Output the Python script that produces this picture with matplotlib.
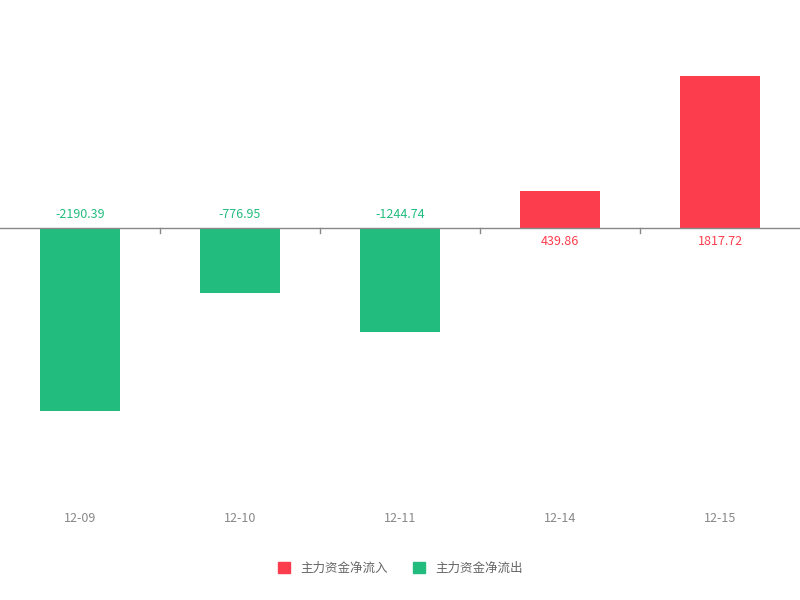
import matplotlib
matplotlib.use("Agg")
import matplotlib.pyplot as plt
from matplotlib.patches import Patch

dates = ["12-09", "12-10", "12-11", "12-14", "12-15"]
values = [-2190.39, -776.95, -1244.74, 439.86, 1817.72]
RED = "#fc3d4d"
GREEN = "#22bd7e"

plt.rcParams["font.family"] = ["Noto Sans CJK SC", "DejaVu Sans"]
fig = plt.figure(figsize=(8, 6), dpi=100)
ax = fig.add_axes([0, 1 - 490 / 600, 1, 450 / 600])
x = list(range(len(dates)))
colors = [RED if v >= 0 else GREEN for v in values]
ax.bar(x, values, width=0.5, color=colors, zorder=2)
ax.set_xlim(-0.5, len(dates) - 0.5)
ax.set_ylim(-3134, 2249)
ax.axhline(0, color="#888888", lw=1, zorder=3)
for b in [i + 0.5 for i in range(len(dates) - 1)]:
    ax.plot([b, b], [0, -60], color="#888888", lw=1, zorder=3)
for i, v in enumerate(values):
    if v < 0:
        ax.annotate(f"{v:.2f}", (i, 0), xytext=(0, 5), textcoords="offset points",
                    ha="center", va="bottom", color=GREEN, fontsize=9)
    else:
        ax.annotate(f"{v:.2f}", (i, 0), xytext=(0, -5), textcoords="offset points",
                    ha="center", va="top", color=RED, fontsize=9)
ax.set_xticks(x)
ax.set_xticklabels(dates, color="#888888", fontsize=9)
ax.tick_params(axis="x", length=0, pad=16)
ax.set_yticks([])
for s in ax.spines.values():
    s.set_visible(False)
handles = [Patch(color=RED, label="主力资金净流入"), Patch(color=GREEN, label="主力资金净流出")]
leg = fig.legend(handles=handles, loc="center", bbox_to_anchor=(0.5, 1 - 568 / 600), ncol=2,
                 frameon=False, fontsize=9, handlelength=1.0, handleheight=1.0, columnspacing=2)
for t in leg.get_texts():
    t.set_color("#666666")
fig.savefig("out.png")
